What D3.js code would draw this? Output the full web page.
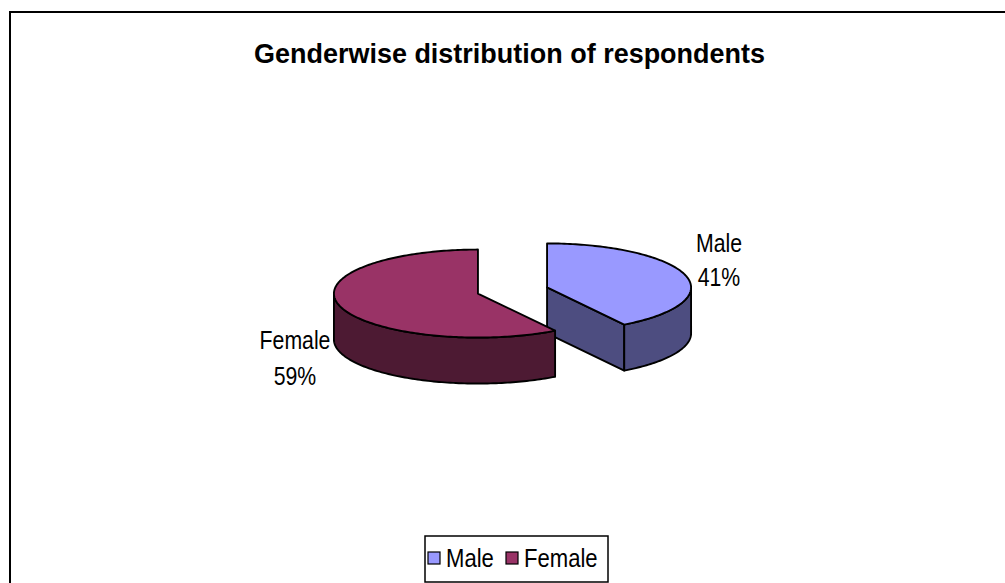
<!DOCTYPE html>
<html><head><meta charset="utf-8">
<script src="https://cdn.jsdelivr.net/npm/d3@7"></script>
<style>html,body{margin:0;padding:0;background:#fff;}svg{display:block;}</style>
</head><body>
<script>
const title = "Genderwise distribution of respondents";
const categories = ["Male", "Female"];
const values = [41, 59];
const topColors = ["#9999FF", "#993366"];
const sideColors = ["#4D4D80", "#4D1A33"];

const W = 1005, H = 583;
const svg = d3.select("body").append("svg").attr("width", W).attr("height", H);

// frame (top and left lines visible)
svg.append("rect").attr("x", 10).attr("y", 12).attr("width", 1020).attr("height", 600)
  .attr("fill", "#fff").attr("stroke", "#000").attr("stroke-width", 2);

svg.append("text").attr("x", 509.5).attr("y", 63).attr("text-anchor", "middle")
  .attr("font-family", "Liberation Sans, Arial, sans-serif").attr("font-weight", "bold")
  .attr("font-size", 27.5).attr("textLength", 511).attr("lengthAdjust", "spacingAndGlyphs")
  .text(title);

const cx = 512.5, cy = 290.5, rx = 144, ry = 44, depth = 46, explode = 36;
const pie = d3.pie().sort(null).value(d => d).startAngle(0).endAngle(2 * Math.PI);
const arcs = pie(values);

const sx = d3.scaleLinear().domain([-1, 1]).range([-rx, rx]);
const sy = d3.scaleLinear().domain([-1, 1]).range([-ry, ry]);

function pt(c, a, dz) { return [c[0] + sx(Math.sin(a)), c[1] - sy(Math.cos(a)) + (dz || 0)]; }
function arcPts(c, a0, a1, dz) {
  const n = Math.max(2, Math.ceil(Math.abs(a1 - a0) / 0.02));
  const out = [];
  for (let i = 0; i <= n; i++) out.push(pt(c, a0 + (a1 - a0) * i / n, dz));
  return out;
}
const line = d3.line();

const stroke = { stroke: "#000", "stroke-width": 1.9, "stroke-linejoin": "round" };
function applyStroke(sel) { Object.entries(stroke).forEach(([k, v]) => sel.attr(k, v)); return sel; }

const g = svg.append("g");
arcs.forEach((d, i) => {
  const mid = (d.startAngle + d.endAngle) / 2;
  const c = [cx + sx(Math.sin(mid) * explode / rx), cy - sy(Math.cos(mid) * explode / rx)];
  const gg = g.append("g");
  [[d.endAngle, Math.sin(d.endAngle) > 0], [d.startAngle, Math.sin(d.startAngle) < 0]].forEach(([a, vis]) => {
    if (!vis) return;
    const p = pt(c, a);
    const poly = [c, p, [p[0], p[1] + depth], [c[0], c[1] + depth]];
    applyStroke(gg.append("path").attr("d", line(poly) + "Z").attr("fill", sideColors[i]));
  });
  const w0 = Math.max(d.startAngle, Math.PI / 2), w1 = Math.min(d.endAngle, 3 * Math.PI / 2);
  if (w1 > w0) {
    const topEdge = arcPts(c, w0, w1, 0);
    const botEdge = arcPts(c, w1, w0, depth);
    applyStroke(gg.append("path").attr("d", line(topEdge.concat(botEdge)) + "Z").attr("fill", sideColors[i]));
  }
  const topPts = [c].concat(arcPts(c, d.startAngle, d.endAngle, 0));
  applyStroke(gg.append("path").attr("d", line(topPts) + "Z").attr("fill", topColors[i]));
});

// data labels
const labelPos = [{ x: 719, y1: 252, y2: 286 }, { x: 295, y1: 349, y2: 385 }];
const pct = values.map(v => Math.round(v / d3.sum(values) * 100) + "%");
categories.forEach((cat, i) => {
  const lp = labelPos[i];
  [[cat, lp.y1], [pct[i], lp.y2]].forEach(([t, y]) => {
    svg.append("text").attr("transform", `translate(${lp.x},${y}) scale(0.85,1)`)
      .attr("text-anchor", "middle").attr("font-family", "Liberation Sans, Arial, sans-serif")
      .attr("font-size", 25).attr("fill", "#000").text(t);
  });
});

// legend
const lg = svg.append("g");
lg.append("rect").attr("x", 425).attr("y", 536).attr("width", 183).attr("height", 46)
  .attr("fill", "#fff").attr("stroke", "#000").attr("stroke-width", 1.5);
const legendX = [428, 506];
categories.forEach((cat, i) => {
  lg.append("rect").attr("x", legendX[i]).attr("y", 552).attr("width", 12).attr("height", 12)
    .attr("fill", topColors[i]).attr("stroke", "#000").attr("stroke-width", 1.2);
  lg.append("text").attr("transform", `translate(${legendX[i] + 18},567) scale(0.85,1)`)
    .attr("font-family", "Liberation Sans, Arial, sans-serif").attr("font-size", 26).text(cat);
});
</script>
</body></html>
